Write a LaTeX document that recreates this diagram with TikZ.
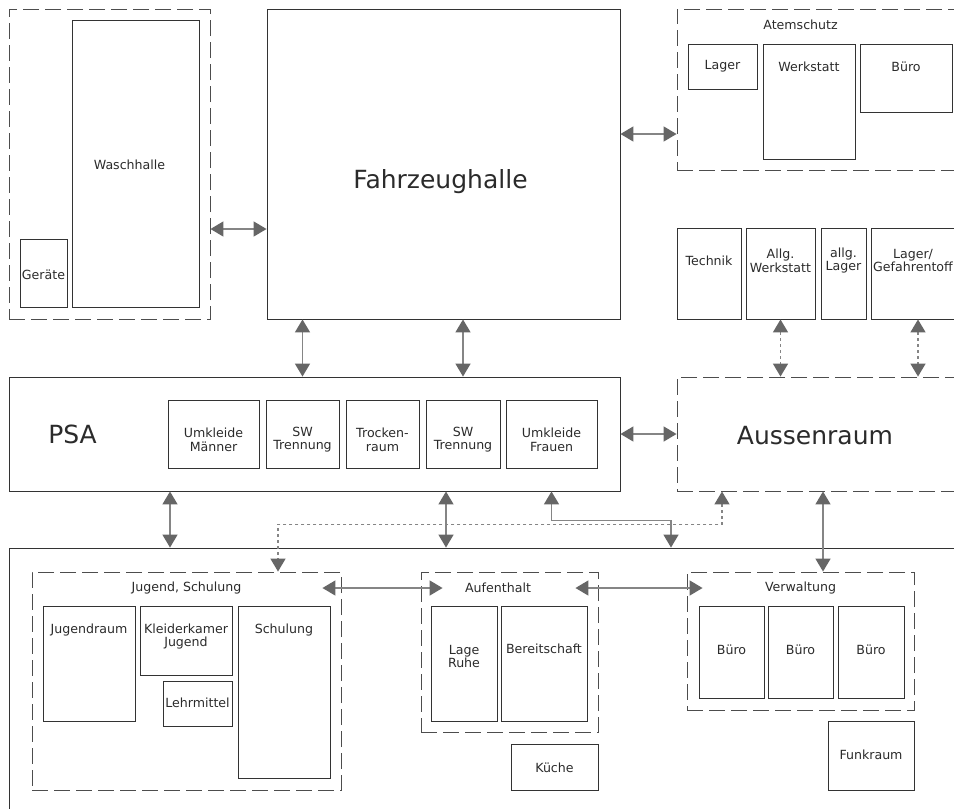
\documentclass[tikz,border=0pt]{standalone}
\usepackage{fontspec}
\setmainfont{DejaVu Sans}
\usetikzlibrary{arrows.meta,fit}
\definecolor{boxcol}{HTML}{333333}
\definecolor{zonecol}{HTML}{4D4D4D}
\definecolor{txtcol}{HTML}{2B2B2B}
\definecolor{conncol}{HTML}{858585}
\definecolor{tipcol}{HTML}{666666}
\begin{document}
\begin{tikzpicture}[x=1pt,y=-1pt,
	txt/.style={text=txtcol, font=\fontsize{12.6}{13.5}\selectfont, align=center, anchor=center},
	big/.style={text=txtcol, font=\fontsize{25}{28}\selectfont, anchor=center},
	room/.style={draw=boxcol, line width=0.9pt, inner sep=0pt},
	zone/.style={draw=zonecol, line width=0.9pt, dash pattern=on 16pt off 6pt, inner sep=0pt},
	conn/.style={draw=conncol, line width=1.6pt,
		{Triangle[length=13pt,width=15pt,color=tipcol]}-{Triangle[length=13pt,width=15pt,color=tipcol]}},
	dotconn/.style={conn, dash pattern=on 3pt off 3pt}]
	\path[use as bounding box, fill=white] (0,0) rectangle (954,809);

	% Waschhalle und Fahrzeughalle
	\node[zone, fit={(9,9) (210,319)}] (gwasch) {};
	\node[room, fit={(72,20) (199,307)}, label={[txt,xshift=-6pt,yshift=-145pt]north:Waschhalle}] (wasch) {};
	\node[room, fit={(20,239) (67,307)}, label={[txt,yshift=-36pt]north:Geräte}] (geraete) {};
	\node[room, fit={(267,9) (620,319)}, label={[big,xshift=-3pt,yshift=-173pt]north:Fahrzeughalle}] (fahr) {};

	% Atemschutz
	\node[zone, fit={(677,9) (960,170)}, label={[txt,xshift=124pt,yshift=-16pt]north west:Atemschutz}] (atem) {};
	\node[room, fit={(688,44) (757,89)}, label={[txt,yshift=-23pt]north:Lager}] (atlager) {};
	\node[room, fit={(763,44) (855,159)}, label={[txt,yshift=-23pt]north:Werkstatt}] (atwerk) {};
	\node[room, fit={(860,44) (952,112)}, label={[txt,yshift=-23pt]north:Büro}] (atbuero) {};

	% Werkstaetten, Lager
	\node[room, fit={(677,228) (741,319)}, label={[txt,yshift=-33pt]north:Technik}] (technik) {};
	\node[room, fit={(746,228) (815,319)}, label={[txt,yshift=-33pt]north:{Allg.\\Werkstatt}}] (allgwerk) {};
	\node[room, fit={(821,228) (866,319)}, label={[txt,yshift=-33pt]north:{allg.\\Lager}}] (allglager) {};
	\node[room, fit={(871,228) (965,319)}, label={[txt,xshift=-5pt,yshift=-33pt]north:{Lager/\\Gefahrentoff}}] (gefahr) {};

	% PSA
	\node[room, fit={(9,377) (620,491)}, label={[big,xshift=64pt]west:PSA}] (psa) {};
	\node[room, fit={(168,400) (259,468)}, label={[txt,yshift=-40pt]north:{Umkleide\\Männer}}] (umm) {};
	\node[room, fit={(266,400) (339,468)}, label={[txt,yshift=-40pt]north:{SW\\Trennung}}] (swm) {};
	\node[room, fit={(346,400) (419,468)}, label={[txt,yshift=-40pt]north:{Trocken-\\raum}}] (trocken) {};
	\node[room, fit={(426,400) (500,468)}, label={[txt,yshift=-40pt]north:{SW\\Trennung}}] (swf) {};
	\node[room, fit={(506,400) (597,468)}, label={[txt,yshift=-40pt]north:{Umkleide\\Frauen}}] (umf) {};

	\node[zone, fit={(677,377) (960,491)}, label={[big,xshift=-3.5pt,yshift=-59pt]north:Aussenraum}] (aussen) {};

	% Hauptgebaeude
	\node[room, fit={(9,548) (965,830)}] (haus) {};
	\node[zone, fit={(32,572) (341,790)}, label={[txt,yshift=-16pt]north:{Jugend, Schulung}}] (jugend) {};
	\node[room, fit={(43,606) (135,721)}, label={[txt,yshift=-24pt]north:Jugendraum}] (jraum) {};
	\node[room, fit={(140,606) (232,675)}, label={[txt,yshift=-31pt]north:{Kleiderkamer\\Jugend}}] (kleider) {};
	\node[room, fit={(163,681) (232,726)}, label={[txt,yshift=-22pt]north:Lehrmittel}] (lehr) {};
	\node[room, fit={(238,606) (330,778)}, label={[txt,yshift=-24pt]north:Schulung}] (schulung) {};

	\node[zone, fit={(421,572) (598,732)}, label={[txt,xshift=-11.5pt,yshift=-16pt]north:Aufenthalt}] (aufent) {};
	\node[room, fit={(431,606) (497,721)}, label={[txt,yshift=-51pt]north:{Lage\\Ruhe}}] (ruhe) {};
	\node[room, fit={(501,606) (587,721)}, label={[txt,yshift=-43pt]north:Bereitschaft}] (bereit) {};
	\node[room, fit={(511,744) (598,790)}, label={[txt,yshift=-24pt]north:Küche}] (kueche) {};

	\node[zone, fit={(687,572) (914,710)}, label={[txt,yshift=-16pt]north:Verwaltung}] (verw) {};
	\node[room, fit={(699,606) (764,698)}, label={[txt,yshift=-44pt]north:Büro}] (buero1) {};
	\node[room, fit={(768,606) (833,698)}, label={[txt,yshift=-44pt]north:Büro}] (buero2) {};
	\node[room, fit={(838,606) (904,698)}, label={[txt,yshift=-44pt]north:Büro}] (buero3) {};
	\node[room, fit={(828,721) (914,790)}, label={[txt,yshift=-34pt]north:Funkraum}] (funk) {};

	% Verbindungen
	\draw[conn] ([yshift=-65pt]gwasch.east) -- ([yshift=-65pt]fahr.west);
	\draw[conn] ([yshift=30pt]fahr.east) -- ([yshift=-44.5pt]atem.west);
	\draw[conn] (swm |- fahr.south) -- (swm |- psa.north);
	\draw[conn] (swf |- fahr.south) -- (swf |- psa.north);
	\draw[dotconn] (allgwerk.south) -- (allgwerk.south |- aussen.north);
	\draw[dotconn] (gefahr.south) -- (gefahr.south |- aussen.north);
	\draw[conn] (psa.east) -- (aussen.west);
	\draw[conn] ([xshift=-144.5pt]psa.south) -- ([xshift=-317pt]haus.north);
	\draw[conn] ([xshift=131.5pt]psa.south) -- ([xshift=-41pt]haus.north);
	\draw[conn] (umf.south |- psa.south) -- ++(0,29) -| ([xshift=184pt]haus.north);
	\draw[dotconn] ([xshift=-96.5pt]aussen.south) -- ++(0,33) -| ([xshift=91.5pt]jugend.north);
	\draw[conn] ([xshift=4.5pt]aussen.south) -- ([xshift=22.5pt]verw.north);
	\draw[conn] ([xshift=-19pt,yshift=93pt]jugend.east) -- ([xshift=22pt,yshift=64pt]aufent.west);
	\draw[conn] ([xshift=-23pt,yshift=64pt]aufent.east) -- ([xshift=16pt,yshift=53pt]verw.west);
\end{tikzpicture}
\end{document}
